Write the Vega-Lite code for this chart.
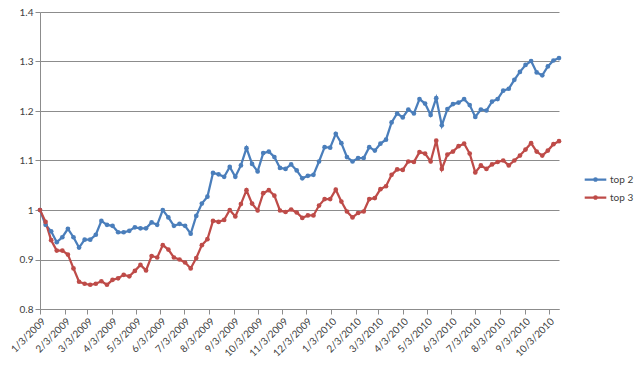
{
  "$schema": "https://vega.github.io/schema/vega-lite/v6.json",
  "autosize": {"type": "none"},
  "width": 519,
  "height": 297,
  "padding": {"left": 40, "top": 12, "right": 81, "bottom": 65},
  "background": "white",
  "config": {
    "view": {"stroke": null},
    "font": "Lato",
    "axis": {"labelFont": "Lato", "labelFontSize": 10, "labelColor": "#404040", "domainColor": "#8c8c8c", "tickColor": "#8c8c8c", "gridColor": "#8c8c8c", "tickSize": 5, "title": null},
    "legend": {"labelFont": "Lato", "labelFontSize": 10, "labelColor": "#404040"}
  },
  "data": {"values": [
    {"date":"2009-01-03","series":"top 2","value":1.000},{"date":"2009-01-10","series":"top 2","value":0.970},{"date":"2009-01-17","series":"top 2","value":0.957},{"date":"2009-01-24","series":"top 2","value":0.935},{"date":"2009-01-31","series":"top 2","value":0.945},{"date":"2009-02-07","series":"top 2","value":0.962},{"date":"2009-02-14","series":"top 2","value":0.945},{"date":"2009-02-21","series":"top 2","value":0.924},{"date":"2009-02-28","series":"top 2","value":0.940},{"date":"2009-03-07","series":"top 2","value":0.940},{"date":"2009-03-14","series":"top 2","value":0.950},{"date":"2009-03-21","series":"top 2","value":0.978},{"date":"2009-03-28","series":"top 2","value":0.970},{"date":"2009-04-04","series":"top 2","value":0.968},{"date":"2009-04-11","series":"top 2","value":0.955},{"date":"2009-04-18","series":"top 2","value":0.955},{"date":"2009-04-25","series":"top 2","value":0.958},{"date":"2009-05-02","series":"top 2","value":0.965},{"date":"2009-05-09","series":"top 2","value":0.963},{"date":"2009-05-16","series":"top 2","value":0.963},{"date":"2009-05-23","series":"top 2","value":0.975},{"date":"2009-05-30","series":"top 2","value":0.970},{"date":"2009-06-06","series":"top 2","value":1.000},{"date":"2009-06-13","series":"top 2","value":0.985},{"date":"2009-06-20","series":"top 2","value":0.968},{"date":"2009-06-27","series":"top 2","value":0.972},{"date":"2009-07-04","series":"top 2","value":0.968},{"date":"2009-07-11","series":"top 2","value":0.952},{"date":"2009-07-18","series":"top 2","value":0.988},{"date":"2009-07-25","series":"top 2","value":1.013},{"date":"2009-08-01","series":"top 2","value":1.027},{"date":"2009-08-08","series":"top 2","value":1.075},{"date":"2009-08-15","series":"top 2","value":1.072},{"date":"2009-08-22","series":"top 2","value":1.067},{"date":"2009-08-29","series":"top 2","value":1.087},{"date":"2009-09-05","series":"top 2","value":1.067},{"date":"2009-09-12","series":"top 2","value":1.090},{"date":"2009-09-19","series":"top 2","value":1.125},{"date":"2009-09-26","series":"top 2","value":1.093},{"date":"2009-10-03","series":"top 2","value":1.078},{"date":"2009-10-10","series":"top 2","value":1.115},{"date":"2009-10-17","series":"top 2","value":1.118},{"date":"2009-10-24","series":"top 2","value":1.107},{"date":"2009-10-31","series":"top 2","value":1.085},{"date":"2009-11-07","series":"top 2","value":1.083},{"date":"2009-11-14","series":"top 2","value":1.092},{"date":"2009-11-21","series":"top 2","value":1.080},{"date":"2009-11-28","series":"top 2","value":1.064},{"date":"2009-12-05","series":"top 2","value":1.069},{"date":"2009-12-12","series":"top 2","value":1.071},{"date":"2009-12-19","series":"top 2","value":1.098},{"date":"2009-12-26","series":"top 2","value":1.127},{"date":"2010-01-02","series":"top 2","value":1.126},{"date":"2010-01-09","series":"top 2","value":1.154},{"date":"2010-01-16","series":"top 2","value":1.135},{"date":"2010-01-23","series":"top 2","value":1.107},{"date":"2010-01-30","series":"top 2","value":1.098},{"date":"2010-02-06","series":"top 2","value":1.105},{"date":"2010-02-13","series":"top 2","value":1.105},{"date":"2010-02-20","series":"top 2","value":1.127},{"date":"2010-02-27","series":"top 2","value":1.120},{"date":"2010-03-06","series":"top 2","value":1.134},{"date":"2010-03-13","series":"top 2","value":1.142},{"date":"2010-03-20","series":"top 2","value":1.177},{"date":"2010-03-27","series":"top 2","value":1.195},{"date":"2010-04-03","series":"top 2","value":1.187},{"date":"2010-04-10","series":"top 2","value":1.203},{"date":"2010-04-17","series":"top 2","value":1.195},{"date":"2010-04-24","series":"top 2","value":1.224},{"date":"2010-05-01","series":"top 2","value":1.215},{"date":"2010-05-08","series":"top 2","value":1.192},{"date":"2010-05-15","series":"top 2","value":1.226},{"date":"2010-05-22","series":"top 2","value":1.171},{"date":"2010-05-29","series":"top 2","value":1.204},{"date":"2010-06-05","series":"top 2","value":1.214},{"date":"2010-06-12","series":"top 2","value":1.217},{"date":"2010-06-19","series":"top 2","value":1.224},{"date":"2010-06-26","series":"top 2","value":1.212},{"date":"2010-07-03","series":"top 2","value":1.188},{"date":"2010-07-10","series":"top 2","value":1.203},{"date":"2010-07-17","series":"top 2","value":1.201},{"date":"2010-07-24","series":"top 2","value":1.219},{"date":"2010-07-31","series":"top 2","value":1.224},{"date":"2010-08-07","series":"top 2","value":1.241},{"date":"2010-08-14","series":"top 2","value":1.245},{"date":"2010-08-21","series":"top 2","value":1.263},{"date":"2010-08-28","series":"top 2","value":1.279},{"date":"2010-09-04","series":"top 2","value":1.293},{"date":"2010-09-11","series":"top 2","value":1.301},{"date":"2010-09-18","series":"top 2","value":1.278},{"date":"2010-09-25","series":"top 2","value":1.272},{"date":"2010-10-02","series":"top 2","value":1.290},{"date":"2010-10-09","series":"top 2","value":1.302},{"date":"2010-10-16","series":"top 2","value":1.307},
    {"date":"2009-01-03","series":"top 3","value":1.000},{"date":"2009-01-10","series":"top 3","value":0.976},{"date":"2009-01-17","series":"top 3","value":0.939},{"date":"2009-01-24","series":"top 3","value":0.918},{"date":"2009-01-31","series":"top 3","value":0.918},{"date":"2009-02-07","series":"top 3","value":0.910},{"date":"2009-02-14","series":"top 3","value":0.882},{"date":"2009-02-21","series":"top 3","value":0.855},{"date":"2009-02-28","series":"top 3","value":0.851},{"date":"2009-03-07","series":"top 3","value":0.849},{"date":"2009-03-14","series":"top 3","value":0.851},{"date":"2009-03-21","series":"top 3","value":0.856},{"date":"2009-03-28","series":"top 3","value":0.849},{"date":"2009-04-04","series":"top 3","value":0.859},{"date":"2009-04-11","series":"top 3","value":0.862},{"date":"2009-04-18","series":"top 3","value":0.869},{"date":"2009-04-25","series":"top 3","value":0.866},{"date":"2009-05-02","series":"top 3","value":0.877},{"date":"2009-05-09","series":"top 3","value":0.889},{"date":"2009-05-16","series":"top 3","value":0.878},{"date":"2009-05-23","series":"top 3","value":0.907},{"date":"2009-05-30","series":"top 3","value":0.904},{"date":"2009-06-06","series":"top 3","value":0.929},{"date":"2009-06-13","series":"top 3","value":0.920},{"date":"2009-06-20","series":"top 3","value":0.904},{"date":"2009-06-27","series":"top 3","value":0.900},{"date":"2009-07-04","series":"top 3","value":0.894},{"date":"2009-07-11","series":"top 3","value":0.882},{"date":"2009-07-18","series":"top 3","value":0.903},{"date":"2009-07-25","series":"top 3","value":0.929},{"date":"2009-08-01","series":"top 3","value":0.941},{"date":"2009-08-08","series":"top 3","value":0.978},{"date":"2009-08-15","series":"top 3","value":0.976},{"date":"2009-08-22","series":"top 3","value":0.980},{"date":"2009-08-29","series":"top 3","value":1.000},{"date":"2009-09-05","series":"top 3","value":0.987},{"date":"2009-09-12","series":"top 3","value":1.012},{"date":"2009-09-19","series":"top 3","value":1.040},{"date":"2009-09-26","series":"top 3","value":1.013},{"date":"2009-10-03","series":"top 3","value":0.999},{"date":"2009-10-10","series":"top 3","value":1.034},{"date":"2009-10-17","series":"top 3","value":1.040},{"date":"2009-10-24","series":"top 3","value":1.029},{"date":"2009-10-31","series":"top 3","value":0.999},{"date":"2009-11-07","series":"top 3","value":0.996},{"date":"2009-11-14","series":"top 3","value":1.001},{"date":"2009-11-21","series":"top 3","value":0.995},{"date":"2009-11-28","series":"top 3","value":0.984},{"date":"2009-12-05","series":"top 3","value":0.989},{"date":"2009-12-12","series":"top 3","value":0.989},{"date":"2009-12-19","series":"top 3","value":1.009},{"date":"2009-12-26","series":"top 3","value":1.022},{"date":"2010-01-02","series":"top 3","value":1.022},{"date":"2010-01-09","series":"top 3","value":1.041},{"date":"2010-01-16","series":"top 3","value":1.017},{"date":"2010-01-23","series":"top 3","value":0.997},{"date":"2010-01-30","series":"top 3","value":0.985},{"date":"2010-02-06","series":"top 3","value":0.994},{"date":"2010-02-13","series":"top 3","value":0.997},{"date":"2010-02-20","series":"top 3","value":1.022},{"date":"2010-02-27","series":"top 3","value":1.024},{"date":"2010-03-06","series":"top 3","value":1.042},{"date":"2010-03-13","series":"top 3","value":1.048},{"date":"2010-03-20","series":"top 3","value":1.071},{"date":"2010-03-27","series":"top 3","value":1.082},{"date":"2010-04-03","series":"top 3","value":1.081},{"date":"2010-04-10","series":"top 3","value":1.098},{"date":"2010-04-17","series":"top 3","value":1.097},{"date":"2010-04-24","series":"top 3","value":1.117},{"date":"2010-05-01","series":"top 3","value":1.114},{"date":"2010-05-08","series":"top 3","value":1.098},{"date":"2010-05-15","series":"top 3","value":1.140},{"date":"2010-05-22","series":"top 3","value":1.083},{"date":"2010-05-29","series":"top 3","value":1.112},{"date":"2010-06-05","series":"top 3","value":1.118},{"date":"2010-06-12","series":"top 3","value":1.129},{"date":"2010-06-19","series":"top 3","value":1.134},{"date":"2010-06-26","series":"top 3","value":1.114},{"date":"2010-07-03","series":"top 3","value":1.076},{"date":"2010-07-10","series":"top 3","value":1.090},{"date":"2010-07-17","series":"top 3","value":1.083},{"date":"2010-07-24","series":"top 3","value":1.092},{"date":"2010-07-31","series":"top 3","value":1.097},{"date":"2010-08-07","series":"top 3","value":1.100},{"date":"2010-08-14","series":"top 3","value":1.090},{"date":"2010-08-21","series":"top 3","value":1.100},{"date":"2010-08-28","series":"top 3","value":1.110},{"date":"2010-09-04","series":"top 3","value":1.122},{"date":"2010-09-11","series":"top 3","value":1.135},{"date":"2010-09-18","series":"top 3","value":1.118},{"date":"2010-09-25","series":"top 3","value":1.110},{"date":"2010-10-02","series":"top 3","value":1.120},{"date":"2010-10-09","series":"top 3","value":1.133},{"date":"2010-10-16","series":"top 3","value":1.139}
  ]},
  "mark": {"type": "line", "strokeWidth": 2.25, "point": {"filled": true, "size": 22}},
  "encoding": {
    "x": {
      "field": "date", "type": "temporal",
      "scale": {"type": "utc", "domain": [{"year": 2009, "month": 1, "date": 3, "utc": true}, {"year": 2010, "month": 10, "date": 16, "utc": true}]},
      "axis": {
        "grid": false,
        "labelAngle": -45, "labelAlign": "right", "labelBaseline": "top", "labelPadding": 2,
        "labelOverlap": false, "labelFlush": false,
        "labelExpr": "utcFormat(datum.value, '%-m/%-d/%Y')",
        "values": [
          {"year": 2009, "month": 1, "date": 3, "utc": true},{"year": 2009, "month": 2, "date": 3, "utc": true},{"year": 2009, "month": 3, "date": 3, "utc": true},{"year": 2009, "month": 4, "date": 3, "utc": true},{"year": 2009, "month": 5, "date": 3, "utc": true},{"year": 2009, "month": 6, "date": 3, "utc": true},{"year": 2009, "month": 7, "date": 3, "utc": true},{"year": 2009, "month": 8, "date": 3, "utc": true},{"year": 2009, "month": 9, "date": 3, "utc": true},{"year": 2009, "month": 10, "date": 3, "utc": true},{"year": 2009, "month": 11, "date": 3, "utc": true},{"year": 2009, "month": 12, "date": 3, "utc": true},
          {"year": 2010, "month": 1, "date": 3, "utc": true},{"year": 2010, "month": 2, "date": 3, "utc": true},{"year": 2010, "month": 3, "date": 3, "utc": true},{"year": 2010, "month": 4, "date": 3, "utc": true},{"year": 2010, "month": 5, "date": 3, "utc": true},{"year": 2010, "month": 6, "date": 3, "utc": true},{"year": 2010, "month": 7, "date": 3, "utc": true},{"year": 2010, "month": 8, "date": 3, "utc": true},{"year": 2010, "month": 9, "date": 3, "utc": true},{"year": 2010, "month": 10, "date": 3, "utc": true}
        ]
      }
    },
    "y": {
      "field": "value", "type": "quantitative",
      "scale": {"domain": [0.8, 1.4], "nice": false, "zero": false},
      "axis": {"values": [0.8, 0.9, 1, 1.1, 1.2, 1.3, 1.4], "format": "~g", "grid": true, "labelPadding": 2}
    },
    "color": {
      "field": "series", "type": "nominal",
      "scale": {"domain": ["top 2", "top 3"], "range": ["#4a7ebb", "#be4b48"]},
      "legend": {
        "title": null, "orient": "none", "legendX": 546, "legendY": 158,
        "symbolType": "M-1.35,0L1.35,0M-0.15,0a0.15,0.15 0 1,0 0.3,0a0.15,0.15 0 1,0 -0.3,0",
        "symbolSize": 256, "symbolStrokeWidth": 2.25, "rowPadding": 2, "labelOffset": 5
      }
    }
  }
}
